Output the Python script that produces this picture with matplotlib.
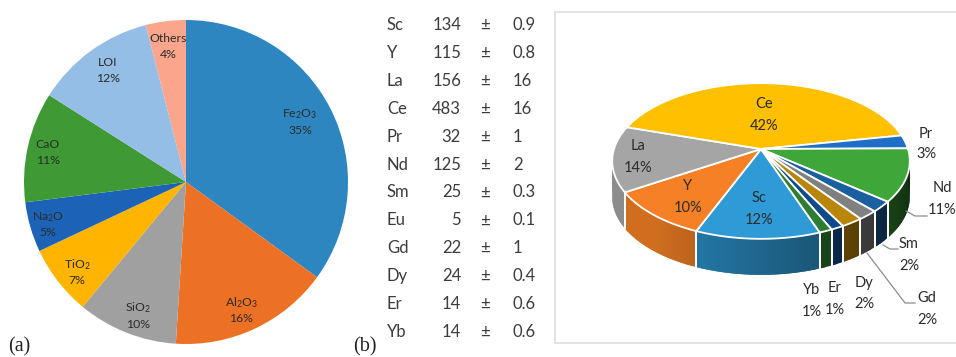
import numpy as np
import matplotlib
matplotlib.use("Agg")
import matplotlib.pyplot as plt
from matplotlib.patches import Polygon, Rectangle
from matplotlib.colors import to_rgb

plt.rcParams['font.family'] = ['Lato', 'DejaVu Sans']
plt.rcParams['mathtext.fontset'] = 'custom'
plt.rcParams['mathtext.rm'] = 'Lato'
plt.rcParams['mathtext.default'] = 'regular'

# ---- data ----
oxide_names = ['Fe$_2$O$_3$', 'Al$_2$O$_3$', 'SiO$_2$', 'TiO$_2$', 'Na$_2$O', 'CaO', 'LOI', 'Others']
oxide_pct = [35, 16, 10, 7, 5, 11, 12, 4]
oxide_colors = ['#2e86c1', '#ed7125', '#a0a0a0', '#ffb400', '#1c63b7', '#3f9a35', '#95bee6', '#fba68c']

ree_names = ['Sc', 'Y', 'La', 'Ce', 'Pr', 'Nd', 'Sm', 'Eu', 'Gd', 'Dy', 'Er', 'Yb']
ree_value = [134, 115, 156, 483, 32, 125, 25, 5, 22, 24, 14, 14]
ree_error = ['0.9', '0.8', '16', '16', '1', '2', '0.3', '0.1', '1', '0.4', '0.6', '0.6']

pie3_names = ['Sc', 'Y', 'La', 'Ce', 'Pr', 'Nd', 'Sm', 'Gd', 'Dy', 'Er', 'Yb']
pie3_colors = ['#2e9ad6', '#f58025', '#a5a5a5', '#ffc000', '#1f6fc6', '#3fa63a',
               '#1a5fa0', '#808080', '#b8860b', '#0f4a8c', '#2e7d32']
pie3_pct = ['12%', '10%', '14%', '42%', '3%', '11%', '2%', '2%', '2%', '1%', '1%']

W, H = 956, 357
fig = plt.figure(figsize=(W / 100, H / 100), dpi=100, facecolor='white')

# ---- panel (a) ----
ax_a = fig.add_axes([24 / W, 1 - 344 / H, 324 / W, 324 / H])
ax_a.pie(oxide_pct, colors=oxide_colors, startangle=90, counterclock=False, radius=1)
ax_a.set_xlim(-1, 1)
ax_a.set_ylim(-1, 1)

# overlay in pixel coordinates
ax = fig.add_axes([0, 0, 1, 1], facecolor='none')
ax.set_xlim(0, W)
ax.set_ylim(H, 0)
ax.axis('off')

txt = '#2b2b2b'
a_pos = [(300, 122), (241, 311), (138, 316), (77, 273), (48, 225), (48, 152), (108, 70), (168, 47)]
for (x, y), n, p in zip(a_pos, oxide_names, oxide_pct):
    ax.text(x, y - 8, n, ha='center', va='center', fontsize=8.8, color=txt)
    ax.text(x, y + 8, f'{p}%', ha='center', va='center', fontsize=8.8, color=txt)

ax.text(8, 347, '(a)', family='Liberation Serif', fontsize=14.5, color='#222222', va='center')
ax.text(353, 347, '(b)', family='Liberation Serif', fontsize=14.5, color='#222222', va='center')

# ---- table ----
for i, (n, v, e) in enumerate(zip(ree_names, ree_value, ree_error)):
    y = 25 + i * 27.9
    c = '#3c3c3c'
    ax.text(387, y, n, ha='left', va='center', fontsize=12, color=c)
    ax.text(461, y, str(v), ha='right', va='center', fontsize=12, color=c)
    ax.text(485, y, '\u00b1', ha='center', va='center', fontsize=12, color=c)
    ax.text(513, y, e, ha='left', va='center', fontsize=12, color=c)

# ---- panel (b) frame ----
ax.add_patch(Rectangle((555, 12), 420, 331, fc='white', ec='#dedede', lw=1.2, zorder=0))

# ---- perspective pie ----
cx, cy = 761, 149
A, B, k = 147, 76, 0.154
depth = 36
start = 160.0


def proj(deg, r=1.0, drop=0.0):
    t = np.radians(deg)
    u, v = r * np.sin(t), r * np.cos(t)
    w = 1 + k * v
    return np.column_stack([cx + A * u / w, cy - B * v / w + drop * np.ones_like(u)])


pie_vals = [v for n, v in zip(ree_names, ree_value) if n in pie3_names]
spans = np.array(pie_vals) / sum(pie_vals) * 360
edges = start + np.concatenate([[0], np.cumsum(spans)])

# side walls: shaded strips, darker towards the right (each overlaps the next to avoid seams)
for i in range(len(spans)):
    a0, a1 = edges[i], edges[i + 1]
    base = np.array(to_rgb(pie3_colors[i]))
    for a, b in [(max(a0, 90), min(a1, 270)), (max(a0 - 360, 90), min(a1 - 360, 270))]:
        if b <= a:
            continue
        n = max(int((b - a) / 1.5), 1)
        g = np.linspace(a, b, n + 1)
        for j in range(n - 1, -1, -1):
            s = np.linspace(g[j], g[min(j + 2, n)], 5)
            top = proj(s)
            bot = proj(s, drop=depth)
            shade = np.clip(0.22 + 0.65 * (g[j] - 90) / 130, 0.25, 0.85)
            ax.add_patch(Polygon(np.vstack([top, bot[::-1]]), fc=base * shade, ec='none', zorder=2))
        ends = proj(np.array([a, b]))
        for q, e_a in zip(ends, (a, b)):
            if 92 < e_a < 268:
                ax.plot([q[0], q[0]], [q[1], q[1] + depth], color='white', lw=1.4, zorder=3)

# top surface
for i in range(len(spans)):
    s = np.linspace(edges[i], edges[i + 1], 80)
    poly = np.vstack([[[cx, cy]], proj(s)])
    ax.add_patch(Polygon(poly, fc=pie3_colors[i], ec='white', lw=1.3, joinstyle='round', zorder=4))

# labels
b_pos = {'Ce': (764, 115), 'Pr': (926, 144), 'Nd': (942, 199), 'Sm': (909, 255), 'Gd': (927, 309),
         'Dy': (864, 293), 'Er': (835, 299), 'Yb': (812, 301), 'Sc': (759, 209), 'Y': (688, 197),
         'La': (638, 157)}
for n, p in zip(pie3_names, pie3_pct):
    x, y = b_pos[n]
    ax.text(x, y - 10.5, n, ha='center', va='center', fontsize=10.5, color=txt, zorder=6)
    ax.text(x, y + 10.5, p, ha='center', va='center', fontsize=10.5, color=txt, zorder=6)

# leader lines
lead = '#8c8c8c'
ax.plot([906, 915, 927], [211, 216, 216], color=lead, lw=0.9, zorder=5)
ax.plot([883, 890, 898], [245, 249, 249], color=lead, lw=0.9, zorder=5)
ax.plot([867, 905, 915], [253, 303, 303], color=lead, lw=0.9, zorder=5)

fig.savefig('out.png', dpi=100, facecolor='white')
